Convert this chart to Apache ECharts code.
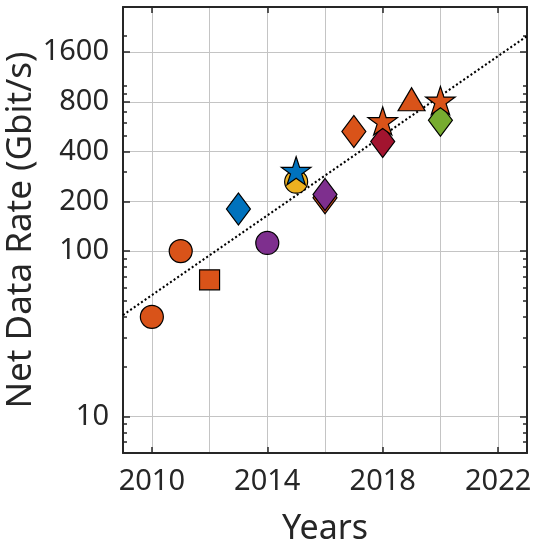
<!DOCTYPE html>
<html><head><meta charset="utf-8">
<script src="https://cdn.jsdelivr.net/npm/echarts@6/dist/echarts.min.js"></script>
<style>html,body{margin:0;padding:0;background:#fff}#c{width:534px;height:553px}</style>
</head><body><div id="c"></div>
<script>
// ---------- Data ----------
const circleYears = [2010, 2011, 2014, 2015];
const circleRates = [40, 100, 112, 263];
const squareYears = [2012];
const squareRates = [67];
const diamondYears = [2013, 2016, 2016, 2017, 2018, 2020];
const diamondRates = [180, 210, 220, 530, 460, 620];
const triangleYears = [2019];
const triangleRates = [830];
const starYears = [2015, 2018, 2020];
const starRates = [300, 600, 800];
const trendYears = [2009, 2023];
const trendRates = [41, 2000];
const xTickLabels = [2010, 2014, 2018, 2022];
const xGridValues = [2010, 2012, 2014, 2016, 2018, 2020, 2022];
const yTickLabels = [10, 100, 200, 400, 800, 1600];
const yMinorTicks = [7, 8, 9, 20, 30, 40, 50, 60, 70, 80, 90, 300, 500, 600, 700, 900, 1000, 2000];

// ---------- Styles ----------
const ORANGE = '#D95319', BLUE = '#0072BD', YELLOW = '#EDB120',
      PURPLE = '#7E2F8E', GREEN = '#77AC30', CRIMSON = '#A2142F';
const circleColors = [ORANGE, ORANGE, PURPLE, YELLOW];
const squareColors = [ORANGE];
const diamondColors = [BLUE, ORANGE, PURPLE, ORANGE, CRIMSON, GREEN];
const triangleColors = [ORANGE];
const starColors = [BLUE, ORANGE, ORANGE];
const INK = '#262626';
const FONT = 'Noto Sans';
const GRIDC = '#c4c4c4';
const STAR = 'path://M0 -1 L0.2245 -0.309 L0.9511 -0.309 L0.3633 0.118 L0.5878 0.809 L0 0.382 L-0.5878 0.809 L-0.3633 0.118 L-0.9511 -0.309 L-0.2245 -0.309 Z M-1 -1 M1 1';

function pts(xs, ys, colors) {
  return xs.map((x, i) => ({ value: [x, ys[i]], itemStyle: { color: colors[i] } }));
}
function markerSeries(xs, ys, colors, symbol, size) {
  return {
    type: 'scatter', symbol: symbol, symbolSize: size,
    data: pts(xs, ys, colors),
    itemStyle: { borderColor: '#000', borderWidth: 1.2, opacity: 1 },
    emphasis: { disabled: true }, z: 3
  };
}

const axisLineStyle = { show: true, onZero: false, lineStyle: { color: INK, width: 2 } };
const tickStyle = { color: INK, width: 1.5 };

function xAxisDef(pos, withLabels) {
  return {
    type: 'value', position: pos, min: 2009, max: 2023,
    axisLine: axisLineStyle,
    axisTick: { show: true, inside: true, length: 6, customValues: xTickLabels, lineStyle: tickStyle },
    axisLabel: withLabels ? { customValues: xTickLabels, formatter: v => String(v), color: INK, fontFamily: FONT, fontSize: 29, margin: 14 } : { show: false },
    splitLine: { show: false },
    name: withLabels ? 'Years' : '', nameLocation: 'middle', nameGap: 59,
    nameTextStyle: { color: INK, fontFamily: FONT, fontSize: 34 }
  };
}
function yAxisDef(pos, values, len, withLabels, line) {
  return {
    type: 'log', logBase: 10, position: pos, min: 6, max: 3000,
    axisLine: line ? axisLineStyle : { show: false },
    axisTick: { show: true, inside: true, length: len, customValues: values, lineStyle: tickStyle },
    axisLabel: withLabels ? { customValues: values, formatter: v => String(Math.round(v)), color: INK, fontFamily: FONT, fontSize: 29, margin: 14 } : { show: false },
    splitLine: withLabels ? { show: true, lineStyle: { color: GRIDC, width: 1 } } : { show: false },
    minorTick: { show: false }, minorSplitLine: { show: false },
    name: withLabels ? 'Net Data Rate (Gbit/s)' : '', nameLocation: 'middle', nameGap: 84,
    nameMoveOverlap: false,
    nameTextStyle: { color: INK, fontFamily: FONT, fontSize: 35 }
  };
}

const chart = echarts.init(document.getElementById('c'), null, { renderer: 'canvas' });
chart.setOption({
  animation: false,
  backgroundColor: '#fff',
  grid: { left: 123, right: 7, top: 7, bottom: 100, containLabel: false, outerBoundsMode: 'none' },
  xAxis: [
    xAxisDef('bottom', true),
    xAxisDef('top', false),
    {
      type: 'value', position: 'bottom', min: 2009, max: 2023,
      axisLine: { show: false }, axisTick: { show: false, customValues: xGridValues },
      axisLabel: { show: false }, splitLine: { show: true, lineStyle: { color: GRIDC, width: 1 } }
    }
  ],
  yAxis: [
    yAxisDef('left', yTickLabels, 7, true, true),
    yAxisDef('left', yMinorTicks, 4, false, false),
    yAxisDef('right', yTickLabels, 7, false, true),
    yAxisDef('right', yMinorTicks, 4, false, false)
  ],
  series: [
    {
      type: 'line', data: trendYears.map((x, i) => [x, trendRates[i]]),
      symbol: 'none', lineStyle: { color: '#000', width: 2, type: [2, 2.4] }, z: 2, silent: true
    },
    markerSeries(circleYears, circleRates, circleColors, 'circle', 23),
    markerSeries(squareYears, squareRates, squareColors, 'rect', 20),
    markerSeries(diamondYears, diamondRates, diamondColors, 'diamond', [24, 32]),
    markerSeries(triangleYears, triangleRates, triangleColors, 'triangle', [27, 23]),
    markerSeries(starYears, starRates, starColors, STAR, 31)
  ]
});
</script>
</body></html>
